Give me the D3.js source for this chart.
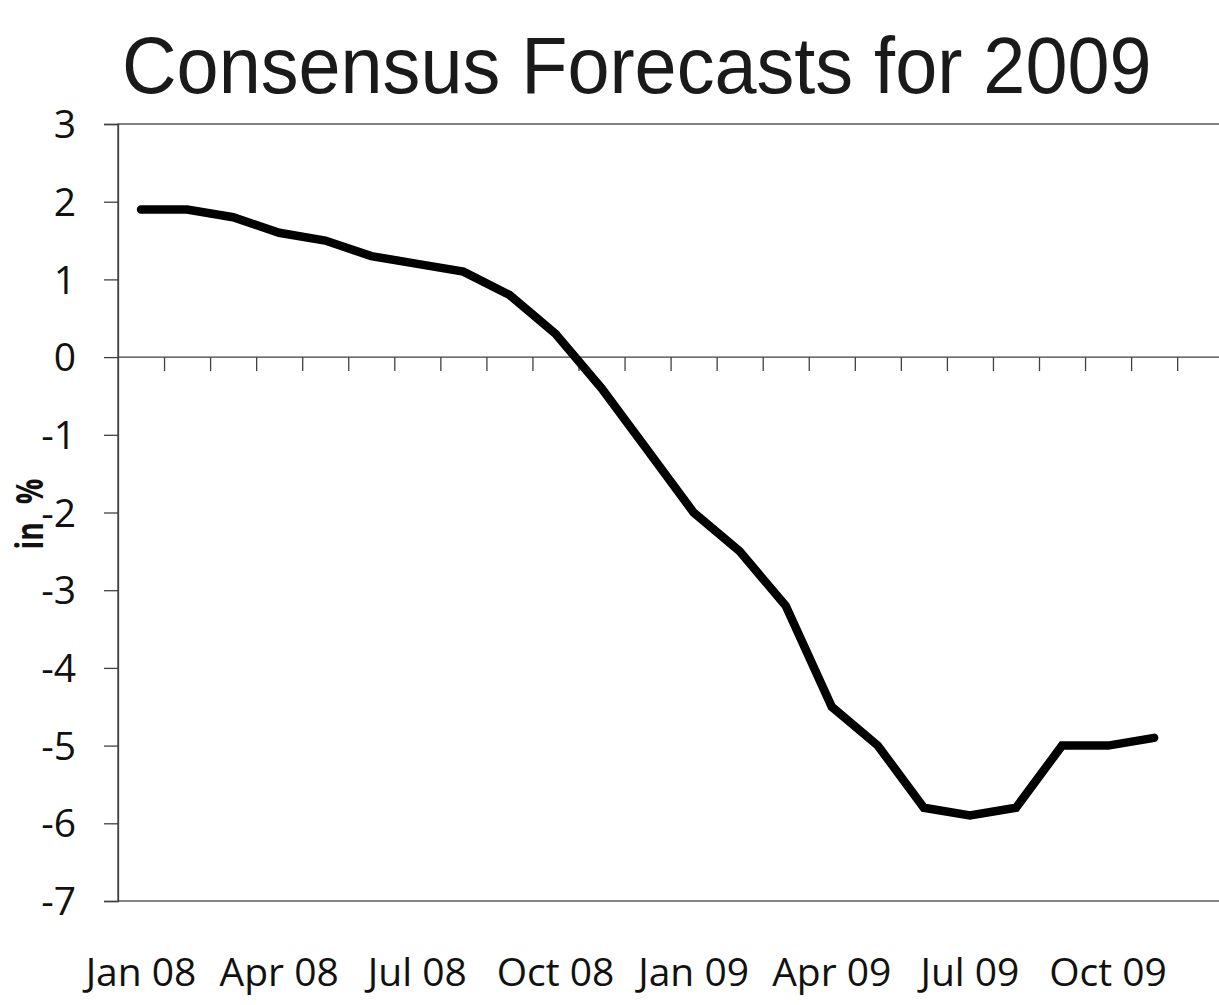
<!DOCTYPE html>
<html>
<head>
<meta charset="utf-8">
<script src="https://cdn.jsdelivr.net/npm/d3@7"></script>
<style>
  html, body { margin: 0; padding: 0; background: #fff; }
  svg { display: block; }
</style>
</head>
<body>
<script>
// ---- Data ----
const months = ["Jan 08","Feb 08","Mar 08","Apr 08","May 08","Jun 08","Jul 08","Aug 08","Sep 08","Oct 08","Nov 08","Dec 08",
                "Jan 09","Feb 09","Mar 09","Apr 09","May 09","Jun 09","Jul 09","Aug 09","Sep 09","Oct 09","Nov 09","Dec 09"];
const forecast = [1.9, 1.9, 1.8, 1.6, 1.5, 1.3, 1.2, 1.1, 0.8, 0.3, -0.4, -1.2,
                  -2.0, -2.5, -3.2, -4.5, -5.0, -5.8, -5.9, -5.8, -5.0, -5.0, -4.9, null];
const xTickLabels = ["Jan 08","Apr 08","Jul 08","Oct 08","Jan 09","Apr 09","Jul 09","Oct 09"];
const yTicks = [3, 2, 1, 0, -1, -2, -3, -4, -5, -6, -7];
const titleText = "Consensus Forecasts for 2009";
const yAxisTitle = "in %";

// ---- Layout ----
const W = 1219, H = 1005;
const plotLeft = 118, plotTop = 124, plotBottom = 901;
const plotRight = plotLeft + 24 * 46.05;

const svg = d3.select("body").append("svg").attr("width", W).attr("height", H);

const x = d3.scaleBand().domain(months).range([plotLeft, plotRight]).paddingInner(0).paddingOuter(0);
const y = d3.scaleLinear().domain([-7, 3]).range([plotBottom, plotTop]);
const cx = m => x(m) + x.bandwidth() / 2;

const axisColor = "#404040";
const textColor = "#111";

// Title
svg.append("text")
  .attr("transform", "translate(122,93) scale(0.995,1.04)")
  .attr("font-family", "'Liberation Sans', Arial, Helvetica, sans-serif")
  .attr("font-size", 76)
  .attr("fill", "#1a1a1a")
  .text(titleText);

// Plot area border (top and bottom lines, right edge beyond view)
svg.append("rect")
  .attr("x", plotLeft).attr("y", plotTop)
  .attr("width", plotRight - plotLeft).attr("height", plotBottom - plotTop)
  .attr("fill", "none").attr("stroke", axisColor).attr("stroke-width", 1.3);

// Y axis
const yAxis = d3.axisLeft(y).tickValues(yTicks).tickSize(14).tickPadding(0).tickFormat(d3.format("d"));
const gy = svg.append("g").attr("transform", `translate(${plotLeft},0)`).call(yAxis);
gy.select(".domain").attr("stroke", axisColor).attr("stroke-width", 1.3);
gy.selectAll(".tick line").attr("stroke", axisColor).attr("stroke-width", 1.3);
gy.selectAll(".tick text")
  .attr("x", -42)
  .attr("dy", "0.35em")
  .attr("font-family", "'Open Sans', sans-serif")
  .attr("font-size", 39)
  .attr("fill", textColor)
  .text(d => d < 0 ? "-" + Math.abs(d) : String(d));

// Zero line with category-boundary ticks (x axis)
const boundaries = months.map(m => x(m)).slice(1);
const xAxis = d3.axisBottom(d3.scaleLinear().domain([plotLeft, plotRight]).range([plotLeft, plotRight]))
  .tickValues(boundaries).tickSize(14).tickFormat("");
const gx = svg.append("g").attr("transform", `translate(0,${y(0)})`).call(xAxis);
gx.select(".domain").remove();
gx.selectAll(".tick line").attr("stroke", axisColor).attr("stroke-width", 1.3);
svg.append("line")
  .attr("x1", plotLeft).attr("x2", plotRight)
  .attr("y1", y(0)).attr("y2", y(0))
  .attr("stroke", axisColor).attr("stroke-width", 1.3);

// X category labels
svg.append("g").selectAll("text")
  .data(xTickLabels)
  .join("text")
  .attr("x", d => cx(d))
  .attr("y", 986)
  .attr("text-anchor", "middle")
  .attr("font-family", "'Open Sans', sans-serif")
  .attr("font-size", 39)
  .attr("fill", textColor)
  .text(d => d);

// Y axis title
svg.append("text")
  .attr("transform", `translate(43,514) rotate(-90) scale(0.75,1)`)
  .attr("text-anchor", "middle")
  .attr("font-family", "'Open Sans', sans-serif")
  .attr("font-weight", "bold")
  .attr("font-size", 38)
  .attr("word-spacing", 14)
  .attr("fill", textColor)
  .text(yAxisTitle);

// Line
const pts = months.map((m, i) => ({ m, v: forecast[i] }));
const line = d3.line()
  .defined(d => d.v !== null)
  .x(d => cx(d.m))
  .y(d => y(d.v));
svg.append("path")
  .datum(pts)
  .attr("d", line)
  .attr("fill", "none")
  .attr("stroke", "#000")
  .attr("stroke-width", 8.5)
  .attr("stroke-linecap", "round")
  .attr("stroke-linejoin", "miter");
</script>
</body>
</html>
